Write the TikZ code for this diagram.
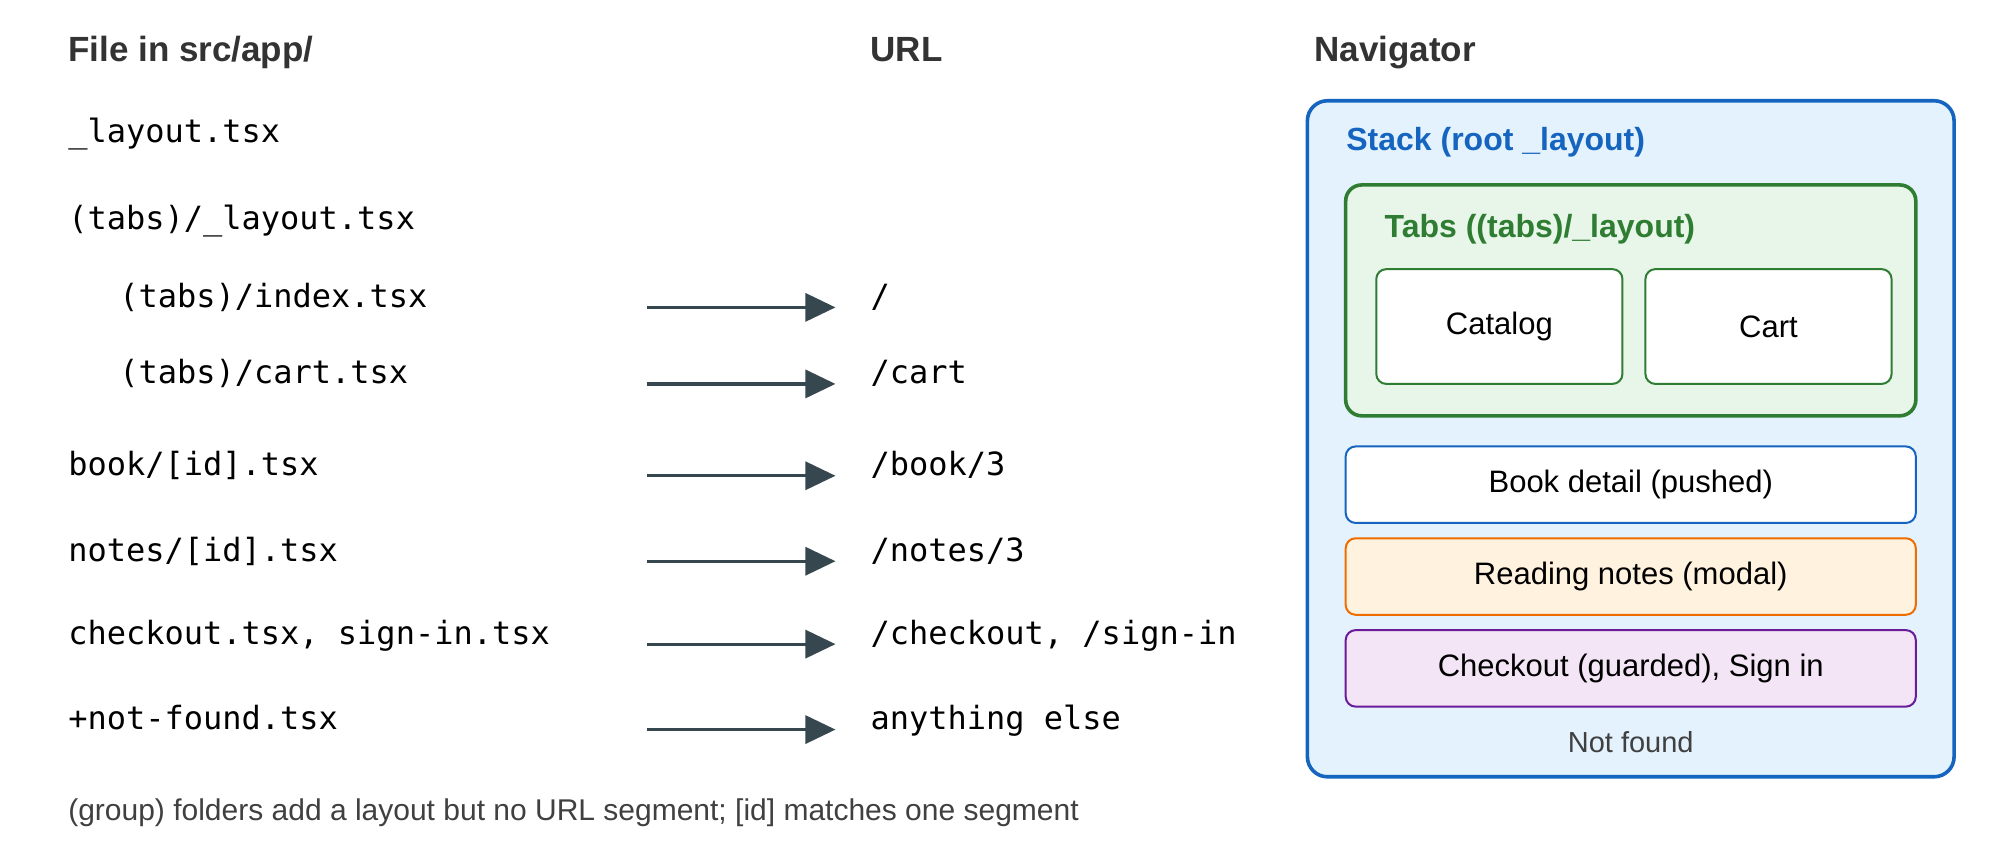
\documentclass[tikz,border=0pt]{standalone}
\usepackage{fontspec}
\setmainfont{Liberation Sans}
\setmonofont{DejaVu Sans Mono}
\usetikzlibrary{arrows.meta,positioning}
\definecolor{arrow-grey}{HTML}{37474F}
\definecolor{stack-blue}{HTML}{1565C0}
\definecolor{stack-fill}{HTML}{E3F2FD}
\definecolor{tabs-green}{HTML}{2E7D32}
\definecolor{tabs-fill}{HTML}{E8F5E9}
\definecolor{modal-orange}{HTML}{EF6C00}
\definecolor{modal-fill}{HTML}{FFF3E0}
\definecolor{guard-purple}{HTML}{6A1B9A}
\definecolor{guard-fill}{HTML}{F3E5F5}
\tikzset{
  heading/.style={anchor=base west, font=\fontsize{17.5}{20}\selectfont\bfseries, text=black!80},
  file/.style={anchor=base west, font=\fontsize{16}{18}\ttfamily},
  route/.style={anchor=base west, font=\fontsize{16}{18}\ttfamily},
  maps/.style={draw=arrow-grey, line width=1.6pt, -{Triangle[length=15pt,width=14pt]}},
  screen/.style={draw, rounded corners=5pt, line width=1pt, font=\fontsize{15.5}{18}\selectfont},
}
\begin{document}
\begin{tikzpicture}[x=0.6378pt, y=-0.6378pt]
  \useasboundingbox[fill=white] (0,0) rectangle (1568,676);
  % headings
  \node[heading] (hfile) at (48,48) {File in src/app/};
  \node[heading] (hurl) at (677,48) {URL};
  \node[heading] (hnav) at (1025,48) {Navigator};
  % files
  \node[file] (froot) at (48,112) {\_layout.tsx};
  \node[file] (ftabs) at (48,180) {(tabs)/\_layout.tsx};
  \node[file] (findex) at (88,241) {(tabs)/index.tsx};
  \node[file] (fcart) at (88,301) {(tabs)/cart.tsx};
  \node[file] (fbook) at (48,373) {book/[id].tsx};
  \node[file] (fnotes) at (48,440) {notes/[id].tsx};
  \node[file] (fcheck) at (48,505) {checkout.tsx, sign-in.tsx};
  \node[file] (fnot) at (48,572) {+not-found.tsx};
  % urls and arrows
  \foreach \y/\name/\txt in {241/index/{/}, 301/cart/{/cart}, 373/book/{/book/3}, 440/notes/{/notes/3},
      505/check/{/checkout, /sign-in}, 572/not/{anything else}} {
    \node[route] (u\name) at (677,\y) {\txt};
    \coordinate (a\name) at (507,\y);
    \coordinate (b\name) at (655,\y);
    \draw[maps] (a\name) -- (b\name);
  }
  \node[anchor=base west, font=\fontsize{15}{17}\selectfont, text=black!75] (note) at (48,643)
    {(group) folders add a layout but no URL segment; [id] matches one segment};
  % navigator
  \draw[draw=stack-blue, fill=stack-fill, line width=1.8pt, rounded corners=10pt]
    (1025,79) rectangle (1532,609);
  \node[anchor=base west, font=\fontsize{16}{18}\selectfont\bfseries, text=stack-blue] (stack) at (1050,118) {Stack (root \_layout)};
  \draw[draw=tabs-green, fill=tabs-fill, line width=1.8pt, rounded corners=8pt]
    (1055,145) rectangle (1502,326);
  \node[anchor=base west, font=\fontsize{16}{18}\selectfont\bfseries, text=tabs-green] (tabs) at (1080,186) {Tabs ((tabs)/\_layout)};
  \node[screen, draw=tabs-green, fill=white, minimum width=193*0.6378pt, minimum height=90*0.6378pt] (catalog) at (1175.5,256) {Catalog};
  \node[screen, draw=tabs-green, fill=white, minimum width=193*0.6378pt, minimum height=90*0.6378pt] (cartscr) at (1386.5,256) {Cart};
  \node[screen, draw=stack-blue, fill=white, minimum width=447*0.6378pt, minimum height=60*0.6378pt] (book) at (1278.5,380) {Book detail (pushed)};
  \node[screen, draw=modal-orange, fill=modal-fill, minimum width=447*0.6378pt, minimum height=60*0.6378pt] (notes) at (1278.5,452) {Reading notes (modal)};
  \node[screen, draw=guard-purple, fill=guard-fill, minimum width=447*0.6378pt, minimum height=60*0.6378pt] (checkout) at (1278.5,524) {Checkout (guarded), Sign in};
  \node[font=\fontsize{14.5}{17}\selectfont, text=black!75] (notfound) at (1278.5,582) {Not found};
\end{tikzpicture}
\end{document}
